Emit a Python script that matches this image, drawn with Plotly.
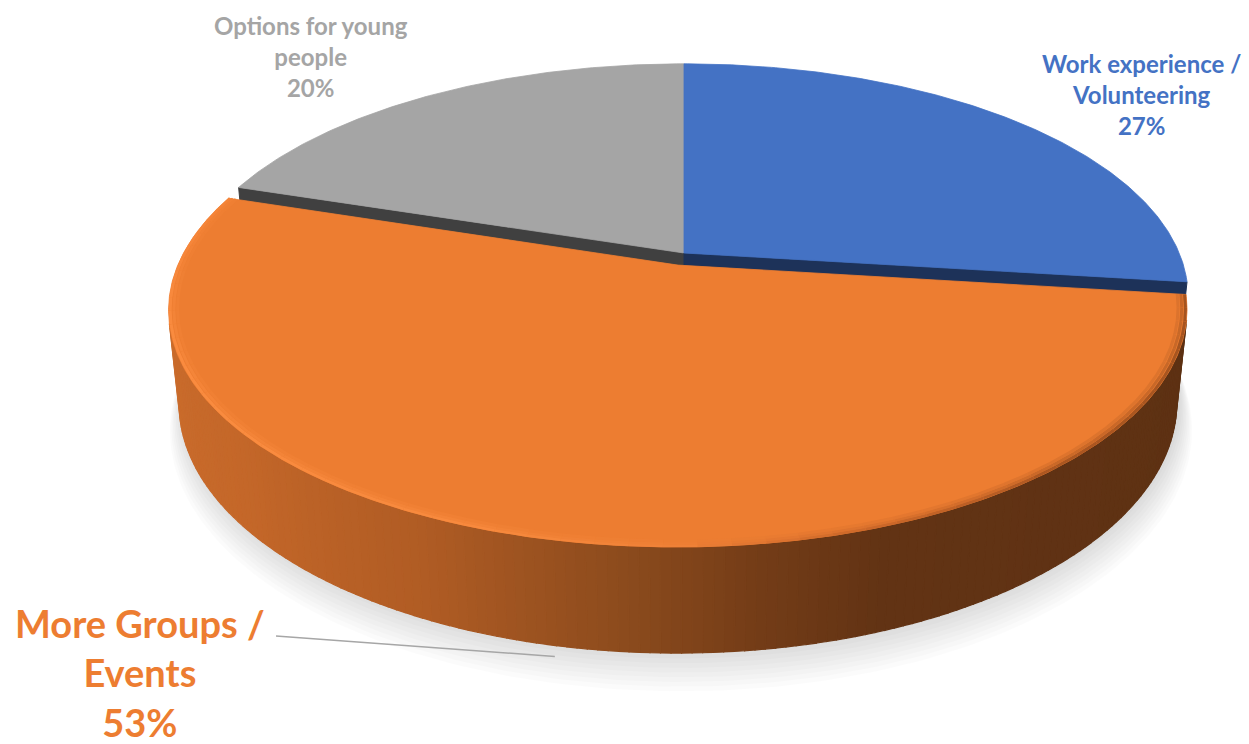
import numpy as np
import plotly.graph_objects as go

# ---- data ----
categories = ["Work experience / Volunteering", "More Groups / Events", "Options for young people"]
label_lines = [["Work experience /", "Volunteering"], ["More Groups /", "Events"], ["Options for young", "people"]]
values = [27, 53, 20]

# ---- styling ----
top_colors = ["#4472C4", "#ED7D31", "#A5A5A5"]
cut_colors = ["#1D3259", "#7A3F16", "#404040"]
explode = [0.0, 0.0548, 0.0]          # radial pull-out of each slice
label_font = [24, 38, 24]
label_pos = [(1141, 94), (140, 672), (311, 56)]
leader_from = (276, 636)

W, H = 1249, 744

# ---- simple perspective camera for a 3-D disc ----
ELEV = np.radians(26.94)
DIST = 4.793
FOCAL = 2373.5
THICK = 0.2114
ORIGIN = (684.0, 253.0)
SN, CS = np.sin(ELEV), np.cos(ELEV)
CAM = np.array([0.0, DIST * CS, DIST * SN])


def project(X, Y, Z):
    X = np.asarray(X, float)
    Y = np.asarray(Y, float)
    Z = np.asarray(Z, float)
    depth = DIST - CS * Y - SN * Z
    return ORIGIN[0] + FOCAL * X / depth, ORIGIN[1] + FOCAL * (SN * Y - CS * Z) / depth


def rim(theta, off, r=1.0):
    return off[0] + r * np.sin(theta), off[1] - r * np.cos(theta)


def rgb(c):
    return "rgb(%d,%d,%d)" % tuple(int(round(v)) for v in c)


# side shading of the wall, keyed by angle (degrees, clockwise from the back)
shade_deg = [90, 103, 160, 172, 185, 205, 230, 257, 290]
shade_rgb = [(93, 49, 19), (93, 49, 19), (98, 51, 20), (115, 60, 23), (140, 75, 29),
             (176, 92, 36), (196, 103, 41), (202, 108, 44), (202, 108, 44)]

# bevel highlight along the orange top rim
bevel_deg = [90, 140, 165, 180, 200, 250, 290]
bevel_rgb = [(150, 76, 28), (160, 80, 30), (205, 104, 42), (240, 130, 56),
             (250, 140, 64), (252, 142, 66), (245, 132, 56)]


def interp_rgb(d, keys, cols):
    cols = np.array(cols, float)
    return [np.interp(d, keys, cols[:, k]) for k in range(3)]


fig = go.Figure()


def add_poly(xs, ys, color, lw=1.0, opacity=1.0):
    fig.add_trace(go.Scatter(x=list(xs), y=list(ys), mode="lines", fill="toself",
                             fillcolor=color, line=dict(color=color, width=lw),
                             opacity=opacity, hoverinfo="skip", showlegend=False))


total = float(sum(values))
bounds = np.concatenate([[0.0], np.cumsum(values) / total * 2 * np.pi])
mids = (bounds[:-1] + bounds[1:]) / 2
offsets = [(e * np.sin(m), -e * np.cos(m)) for e, m in zip(explode, mids)]

# soft floor shadow under the disc
full = np.linspace(0, 2 * np.pi, 361)
for k in range(10, 0, -1):
    r = 1.0 + 0.0035 * k
    bx, by = rim(full, (-0.006, 0.03), r)
    px, py = project(bx, by, np.full_like(full, -THICK - 0.007 * k))
    add_poly(px, py, "rgba(0,0,0,0.016)", lw=0)

# paint slices from back to front
order = sorted(range(len(values)), key=lambda i: -np.cos(mids[i]))
for i in order:
    a, b = bounds[i], bounds[i + 1]
    off = offsets[i]
    apex = np.array([off[0], off[1], 0.0])
    to_cam = CAM - apex

    # radial cut faces that look toward the camera
    for ang, sign in ((a, -1.0), (b, 1.0)):
        normal = sign * np.array([np.cos(ang), np.sin(ang), 0.0])
        if normal @ to_cam > 1e-6:
            rx, ry = rim(ang, off)
            px, py = project([off[0], rx, rx, off[0], off[0]],
                             [off[1], ry, ry, off[1], off[1]],
                             [0, 0, -THICK, -THICK, 0])
            add_poly(px, py, cut_colors[i])

    # outer wall, split into thin shaded strips
    n = max(2, int(np.degrees(b - a)))
    edges = np.linspace(a, b, n + 1)
    for t0, t1 in zip(edges[:-1], edges[1:]):
        tm = (t0 + t1) / 2
        mx, my = rim(tm, off)
        nrm = np.array([np.sin(tm), -np.cos(tm), 0.0])
        if nrm @ (CAM - np.array([mx, my, -THICK / 2])) <= 0:
            continue
        x0, y0 = rim(t0, off)
        x1, y1 = rim(t1, off)
        px, py = project([x0, x1, x1, x0, x0], [y0, y1, y1, y0, y0],
                         [0, 0, -THICK, -THICK, 0])
        if i == 1:
            col = rgb(interp_rgb(np.degrees(tm), shade_deg, shade_rgb))
        else:
            col = cut_colors[i]
        add_poly(px, py, col, lw=1.2)

    # top face
    th = np.linspace(a, b, max(3, int(np.degrees(b - a)) * 2))
    rx, ry = rim(th, off)
    px, py = project(np.concatenate([[off[0]], rx, [off[0]]]),
                     np.concatenate([[off[1]], ry, [off[1]]]),
                     np.zeros(len(th) + 2))
    add_poly(px, py, top_colors[i], lw=0.8)

    # soft bevel along the front rim of the big slice
    if i == 1:
        seg = np.linspace(a, b, 60)
        base = np.array([237, 125, 49], float)
        for r, mix, lw in ((0.997, 0.85, 3.0), (0.990, 0.45, 3.0), (0.983, 0.2, 3.0)):
            for t0, t1 in zip(seg[:-1], seg[1:]):
                c = np.array(interp_rgb(np.degrees((t0 + t1) / 2), bevel_deg, bevel_rgb))
                c = mix * c + (1 - mix) * base
                xs, ys = rim(np.array([t0, t1]), off, r)
                px, py = project(xs, ys, [0, 0])
                fig.add_trace(go.Scatter(x=px, y=py, mode="lines",
                                         line=dict(color=rgb(c), width=lw),
                                         hoverinfo="skip", showlegend=False))

# leader line for the big slice label
bx, by = rim(mids[1], offsets[1])
ex, ey = project([bx], [by], [-THICK - 0.025])
fig.add_trace(go.Scatter(x=[leader_from[0], ex[0] + 8], y=[leader_from[1], ey[0]], mode="lines",
                         line=dict(color="#A6A6A6", width=1.5),
                         hoverinfo="skip", showlegend=False))

# data labels
for i in range(len(values)):
    text = "<br>".join(["<b>%s</b>" % s for s in label_lines[i] + ["%d%%" % values[i]]])
    fig.add_annotation(x=label_pos[i][0], y=label_pos[i][1], text=text, showarrow=False,
                       xanchor="center", yanchor="middle", align="center",
                       font=dict(family="Lato, Carlito, Calibri, sans-serif",
                                 size=label_font[i], color=top_colors[i]))

fig.update_layout(
    width=W, height=H,
    margin=dict(l=0, r=0, t=0, b=0),
    paper_bgcolor="white", plot_bgcolor="white",
    showlegend=False,
    xaxis=dict(range=[0, W], visible=False, fixedrange=True),
    yaxis=dict(range=[H, 0], visible=False, fixedrange=True),
)

fig.write_html("out.html")
